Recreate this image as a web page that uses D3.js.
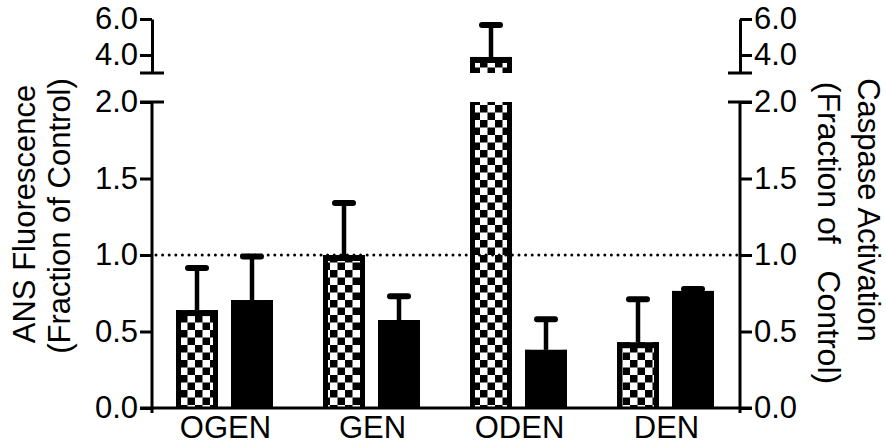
<!DOCTYPE html>
<html>
<head>
<meta charset="utf-8">
<script src="https://cdn.jsdelivr.net/npm/d3@7"></script>
<style>
  body { margin: 0; background: #fff; }
  text { font-family: "Liberation Sans", Arial, sans-serif; }
</style>
</head>
<body>
<div id="graph"></div>
<script>
// two series per group
const categories = ["OGEN", "GEN", "ODEN", "DEN"];
const ansMean = [0.64, 1.0, 3.89, 0.43];
const ansErr = [0.275, 0.34, 1.78, 0.28];
const caspMean = [0.705, 0.575, 0.38, 0.765];
const caspErr = [0.285, 0.155, 0.2, 0.012];
const lowTicks = [0, 0.5, 1, 1.5, 2];
const highTicks = [4, 6];

const width = 886;
const height = 448;
const left = 152;
const right = 740;
const bottom = 408;

const svg = d3.select("#graph")
              .append("svg")
              .attr("width", width)
              .attr("height", height);

const defs = svg.append("defs");
const pat = defs.append("pattern")
                .attr("id", "checker")
                .attr("patternUnits", "userSpaceOnUse")
                .attr("width", 15)
                .attr("height", 15);
pat.append("rect").attr("width", 15).attr("height", 15).attr("fill", "#fff");
pat.append("rect").attr("width", 7.5).attr("height", 7.5).attr("fill", "#000");
pat.append("rect").attr("x", 7.5).attr("y", 7.5).attr("width", 7.5).attr("height", 7.5).attr("fill", "#000");

// broken y axis: lower 0-2, upper 3-6
const yLow = d3.scaleLinear().domain([0, 2]).range([bottom, 102]);
const yHigh = d3.scaleLinear().domain([3, 6]).range([73, 19]);
const segments = [
  { scale: yLow, min: 0, max: 2 },
  { scale: yHigh, min: 3, max: 6 }
];

const xScale = d3.scaleBand()
                 .domain(categories)
                 .range([left, right]);

const fmt = d3.format(".1f");
const series = [
  { mean: ansMean, err: ansErr, fill: "url(#checker)", off: 24 },
  { mean: caspMean, err: caspErr, fill: "#000", off: 79 }
];
const barW = 42;
const border = 5;

const bars = svg.append("g");

series.forEach(s => {
  categories.forEach((c, i) => {
    const v = s.mean[i];
    const x0 = xScale(c) + s.off;
    segments.forEach(seg => {
      if (v <= seg.min) return;
      const top = seg.scale(Math.min(v, seg.max));
      const bot = seg.scale(seg.min);
      bars.append("rect")
          .attr("x", x0).attr("y", top)
          .attr("width", barW).attr("height", bot - top)
          .attr("fill", s.fill);
      bars.append("rect")
          .attr("x", x0).attr("y", top)
          .attr("width", border).attr("height", bot - top);
      bars.append("rect")
          .attr("x", x0 + barW - border).attr("y", top)
          .attr("width", border).attr("height", bot - top);
      if (v <= seg.max) {
        bars.append("rect")
            .attr("x", x0).attr("y", top)
            .attr("width", barW).attr("height", 6);
      }
    });
    // error bar, upper side only
    const hi = v + s.err[i];
    const seg = segments.find(g => hi > g.min && hi <= g.max);
    const cx = x0 + barW / 2;
    bars.append("line")
        .attr("x1", cx).attr("x2", cx)
        .attr("y1", seg.scale(v)).attr("y2", seg.scale(hi))
        .attr("stroke", "#000").attr("stroke-width", 4.5);
    bars.append("line")
        .attr("x1", cx - 9).attr("x2", cx + 9)
        .attr("y1", seg.scale(hi)).attr("y2", seg.scale(hi))
        .attr("stroke", "#000").attr("stroke-width", 6)
        .attr("stroke-linecap", "round");
  });
});

// reference line at 1.0
svg.append("line")
   .attr("x1", left + 4).attr("x2", right - 2)
   .attr("y1", yLow(1)).attr("y2", yLow(1))
   .attr("stroke", "#000")
   .attr("stroke-width", 3)
   .attr("stroke-linecap", "round")
   .attr("stroke-dasharray", "0,6.6");

function styleAxis(g) {
  g.selectAll("path, line").attr("stroke", "#000").attr("stroke-width", 3);
  g.selectAll("text").style("font-size", "31px").attr("fill", "#000");
}

const axes = [
  { gen: d3.axisLeft, x: left },
  { gen: d3.axisRight, x: right }
];

axes.forEach(a => {
  svg.append("g")
     .attr("transform", `translate(${a.x}, 0)`)
     .call(a.gen(yLow).tickValues(lowTicks).tickFormat(fmt).tickSize(12).tickSizeOuter(0).tickPadding(2))
     .call(g => g.select(".domain").attr("d", `M0,${bottom + 5}V${yLow(2)}`))
     .call(styleAxis);
  svg.append("g")
     .attr("transform", `translate(${a.x}, 0)`)
     .call(a.gen(yHigh).tickValues(highTicks).tickFormat(fmt).tickSize(12).tickSizeOuter(0).tickPadding(2))
     .call(styleAxis);
  // break caps
  [yLow(2), yHigh(3)].forEach(y => {
    svg.append("line")
       .attr("x1", a.x - 12).attr("x2", a.x + 12)
       .attr("y1", y).attr("y2", y)
       .attr("stroke", "#000").attr("stroke-width", 3);
  });
});

// baseline and category labels
svg.append("line")
   .attr("x1", left - 12).attr("x2", right + 12)
   .attr("y1", bottom).attr("y2", bottom)
   .attr("stroke", "#000").attr("stroke-width", 3);

svg.append("g")
   .attr("transform", `translate(0, ${bottom})`)
   .call(d3.axisBottom(xScale).tickSize(0).tickPadding(8))
   .call(g => g.select(".domain").remove())
   .call(styleAxis);

// axis titles
const titles = [
  { t: "ANS Fluorescence", x: 24, y: 214, r: -90, s: 31 },
  { t: "(Fraction of Control)", x: 59, y: 216, r: -90, s: 31 },
  { t: "Caspase Activation", x: 868, y: 210, r: 90, s: 31 },
  { t: "(Fraction of\u00a0\u00a0 Control)", x: 829, y: 233, r: 90, s: 32 }
];
titles.forEach(d => {
  svg.append("text")
     .attr("transform", `translate(${d.x}, ${d.y}) rotate(${d.r})`)
     .style("text-anchor", "middle")
     .style("dominant-baseline", "central")
     .style("font-size", d.s + "px")
     .text(d.t);
});
</script>
</body>
</html>
